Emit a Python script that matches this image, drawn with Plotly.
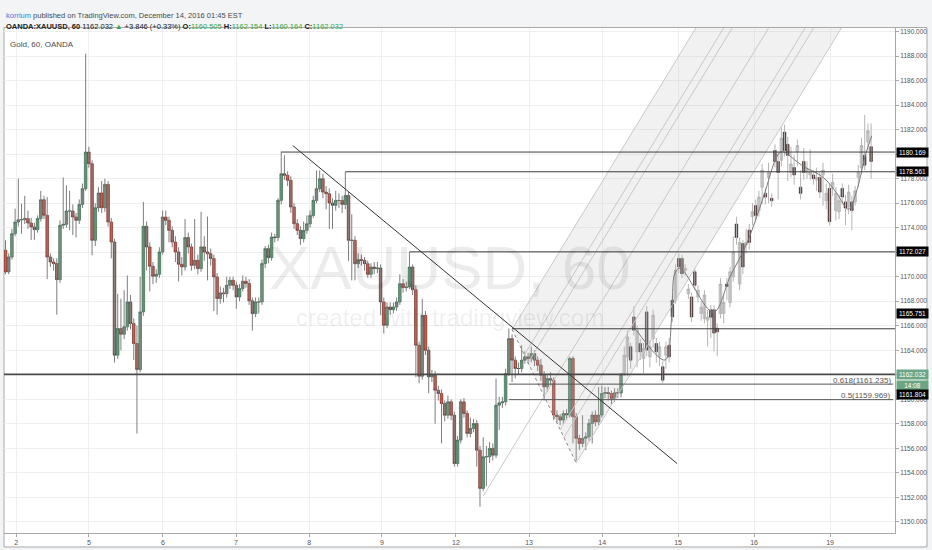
import plotly.graph_objects as go

# OANDA:XAUUSD 60 min candles, oldest first
first_open = 1172.16
closes = [
    1170.39, 1171.61, 1173.51, 1174.46, 1174.65, 1174.65, 1174.74, 1174.38, 1174.06, 1173.84,
    1174.74, 1176.28, 1175.01, 1171.61, 1171.20, 1171.07, 1169.76, 1174.19, 1174.27, 1175.36,
    1175.36, 1174.87, 1174.60, 1175.90, 1177.18, 1180.17, 1179.22, 1172.97, 1175.63, 1176.83,
    1175.63, 1177.53, 1174.46, 1172.83, 1163.60, 1165.77, 1165.31, 1165.91, 1167.94, 1166.18,
    1164.55, 1162.43, 1167.13, 1174.11, 1172.43, 1170.85, 1170.04, 1170.20, 1172.02, 1174.87,
    1174.60, 1173.78, 1172.83, 1172.02, 1171.01, 1170.80, 1173.19, 1172.43, 1170.93, 1171.34,
    1170.66, 1172.43, 1172.02, 1171.88, 1171.48, 1169.98, 1168.22, 1168.68, 1168.62, 1169.30,
    1169.71, 1169.30, 1168.35, 1169.03, 1169.63, 1169.44, 1168.03, 1166.99, 1167.94, 1167.94,
    1171.07, 1172.29, 1171.56, 1173.24, 1173.19, 1176.23, 1178.40, 1178.27, 1177.86, 1175.69,
    1174.33, 1173.78, 1173.11, 1173.78, 1174.32, 1175.00, 1176.22, 1177.18, 1177.99, 1176.90,
    1176.77, 1176.01, 1175.82, 1176.22, 1176.22, 1175.90, 1176.63, 1172.97, 1172.97, 1171.06,
    1171.39, 1171.34, 1171.06, 1170.19, 1170.79, 1170.66, 1170.71, 1167.94, 1166.04, 1167.53,
    1167.31, 1167.53, 1167.94, 1169.43, 1169.11, 1169.16, 1170.79, 1168.94, 1164.41, 1161.88,
    1166.85, 1164.00, 1161.83, 1161.96, 1160.74, 1160.47, 1159.65, 1158.70, 1159.79, 1158.70,
    1154.76, 1156.67, 1159.79, 1158.84, 1157.21, 1157.62, 1158.02, 1155.85, 1152.73, 1155.31,
    1155.31, 1155.99, 1155.44, 1159.52, 1159.71, 1159.79, 1162.10, 1164.95, 1163.19, 1162.51,
    1162.51, 1163.19, 1163.46, 1163.32, 1163.73, 1163.19, 1162.78, 1161.96, 1161.01, 1161.69,
    1161.56, 1158.71, 1158.57, 1158.30, 1158.84, 1158.71, 1163.33, 1158.57, 1156.81,
    1156.40, 1156.81, 1156.94, 1158.03, 1158.71, 1158.16, 1158.71, 1160.47,
    1160.55, 1160.47, 1160.07, 1160.53, 1160.51, 1162.03,
]
highs = [
    1172.97, 1171.9, 1173.9, 1175.55, 1178.0, 1175.96, 1176.6, 1175.4, 1174.8, 1174.4,
    1175.0, 1177.0, 1176.6, 1176.5, 1171.9, 1171.5, 1171.5, 1174.6, 1178.1, 1177.45,
    1177.0, 1175.9, 1175.2, 1176.3, 1177.6, 1188.2, 1180.6, 1179.5, 1176.0, 1177.3,
    1177.8, 1178.0, 1177.8, 1174.8, 1173.1, 1168.6, 1168.2, 1168.9, 1170.1, 1168.5,
    1166.6, 1166.0, 1170.0, 1176.1, 1174.5, 1172.8, 1171.2, 1170.6, 1172.4, 1175.4,
    1175.4, 1174.9, 1174.1, 1173.3, 1172.4, 1171.6, 1174.7, 1173.6, 1172.7, 1174.7,
    1171.8, 1175.3, 1173.3, 1174.9, 1172.3, 1171.8, 1170.3, 1169.2, 1169.1, 1170.0,
    1170.0, 1170.0, 1169.6, 1169.4, 1170.1, 1170.0, 1169.8, 1168.3, 1168.3, 1168.3,
    1171.4, 1172.5, 1172.6, 1173.6, 1173.5, 1176.4, 1180.2, 1179.9, 1178.6, 1178.2,
    1176.0, 1174.7, 1174.1, 1174.5, 1175.0, 1175.4, 1176.6, 1178.67, 1178.67, 1178.4,
    1177.4, 1177.2, 1176.4, 1177.0, 1176.8, 1176.6, 1178.56, 1176.9, 1175.1, 1173.3,
    1171.9, 1171.8, 1171.6, 1171.3, 1171.1, 1171.2, 1171.2, 1171.0, 1168.3, 1167.9,
    1167.9, 1167.9, 1168.3, 1170.2, 1169.8, 1169.6, 1172.01, 1171.0, 1169.3, 1164.7,
    1168.2, 1167.2, 1164.3, 1162.4, 1162.3, 1161.1, 1160.8, 1159.9, 1160.3, 1160.0,
    1159.0, 1157.0, 1160.0, 1160.1, 1159.1, 1158.5, 1158.4, 1158.3, 1156.2, 1156.9,
    1156.2, 1156.5, 1156.4, 1161.7, 1160.2, 1160.2, 1162.5, 1165.77, 1165.3, 1163.5,
    1163.0, 1164.4, 1163.9, 1163.8, 1164.3, 1164.0, 1163.5, 1163.3, 1162.3, 1162.0,
    1162.2, 1161.8, 1159.1, 1158.8, 1159.1, 1159.2, 1163.46, 1163.5, 1158.9,
    1157.1, 1158.7, 1157.3, 1158.4, 1159.0, 1159.1, 1161.0, 1161.1,
    1161.0, 1161.0, 1160.7, 1160.9, 1160.9, 1162.15,
]
lows = [
    1170.2, 1170.2, 1171.4, 1173.3, 1174.1, 1173.51, 1174.3, 1173.9, 1173.0, 1173.0,
    1173.6, 1174.5, 1174.7, 1169.8, 1170.8, 1170.5, 1166.9, 1169.5, 1173.9, 1174.0,
    1173.8, 1173.4, 1173.2, 1174.3, 1175.6, 1177.0, 1178.9, 1171.75, 1172.5, 1175.3,
    1175.2, 1175.3, 1174.1, 1171.5, 1163.0, 1163.3, 1164.0, 1164.9, 1165.6, 1165.7,
    1163.2, 1157.2, 1162.2, 1166.8, 1170.5, 1168.8, 1169.4, 1169.5, 1169.9, 1171.8,
    1174.2, 1172.8, 1172.4, 1171.2, 1169.6, 1170.1, 1170.5, 1171.9, 1170.5, 1170.6,
    1170.2, 1170.4, 1171.3, 1169.7, 1170.9, 1167.2, 1166.9, 1167.8, 1167.9, 1168.3,
    1169.0, 1168.9, 1167.4, 1168.0, 1168.8, 1169.1, 1167.7, 1165.6, 1166.7, 1167.0,
    1167.7, 1170.7, 1171.1, 1171.3, 1172.8, 1172.9, 1175.9, 1177.9, 1177.4, 1175.2,
    1173.9, 1173.4, 1172.6, 1172.8, 1173.5, 1174.0, 1174.8, 1176.0, 1176.9, 1176.4,
    1175.5, 1173.9, 1173.9, 1175.4, 1175.6, 1175.2, 1175.5, 1171.3, 1169.7, 1169.7,
    1170.7, 1170.9, 1170.5, 1169.9, 1169.9, 1170.2, 1170.3, 1166.85, 1165.36, 1165.8,
    1166.9, 1167.0, 1167.2, 1167.7, 1168.7, 1168.8, 1169.0, 1168.5, 1161.8, 1161.3,
    1161.6, 1163.6, 1160.5, 1161.4, 1158.0, 1159.9, 1156.4, 1158.2, 1158.4, 1158.3,
    1154.5, 1154.5, 1156.4, 1158.5, 1156.9, 1156.9, 1157.3, 1154.5, 1151.23, 1152.5,
    1152.9, 1154.8, 1155.0, 1155.2, 1157.5, 1159.3, 1159.5, 1161.9, 1161.4, 1161.7,
    1162.0, 1162.2, 1162.9, 1162.9, 1163.0, 1162.7, 1162.3, 1161.5, 1159.9, 1160.6,
    1161.1, 1158.3, 1158.1, 1157.9, 1158.0, 1158.3, 1158.5, 1156.4, 1155.0,
    1155.85, 1156.1, 1155.85, 1156.6, 1156.4, 1157.8, 1157.9, 1158.5,
    1160.1, 1159.9, 1159.6, 1159.8, 1160.1, 1160.16,
]

# projected bars ("bars pattern" drawing), drawn in gray after the last real bar
ghost_open = [
    1162.0, 1163.46, 1164.28, 1166.72, 1163.87, 1164.55, 1163.33, 1167.13, 1163.46, 1164.96,
    1164.55, 1163.46, 1162.65, 1163.60, 1164.41, 1168.08, 1168.08, 1171.48, 1171.48, 1170.53,
    1168.6, 1168.35, 1170.4, 1168.35, 1167.0, 1166.6, 1166.45, 1167.3, 1167.3, 1165.8,
    1167.0, 1167.0, 1169.4, 1167.9, 1170.0, 1174.3, 1169.4, 1172.7, 1172.6, 1173.8,
    1174.9, 1175.8, 1175.4, 1177.3, 1176.8, 1178.1, 1176.4, 1180.3, 1179.4, 1179.5,
    1181.8, 1180.8, 1178.5, 1178.9, 1180.2, 1177.3, 1179.4, 1178.5, 1178.3, 1178.3,
    1177.9, 1178.1, 1178.3, 1176.2, 1177.2, 1177.2, 1175.4, 1175.3, 1177.2, 1176.1,
    1175.7, 1176.1, 1176.1, 1178.1, 1178.9, 1179.9, 1181.0, 1180.6,
]
ghost_close = [
    1163.6, 1165.09, 1163.19, 1165.64, 1165.64, 1163.87, 1164.14, 1164.01, 1164.28, 1166.86,
    1163.87, 1164.28, 1161.56, 1164.28, 1163.46, 1166.72, 1170.53, 1170.80, 1170.25, 1170.66,
    1169.0, 1166.72, 1169.3, 1168.9, 1167.5, 1168.5, 1166.7, 1166.7, 1165.4, 1165.5,
    1169.4, 1167.9, 1169.2, 1170.4, 1172.0, 1173.2, 1172.8, 1170.8, 1172.8, 1172.8,
    1175.3, 1175.0, 1176.5, 1178.7, 1176.5, 1178.5, 1176.2, 1179.4, 1178.5, 1181.3,
    1180.3, 1179.9, 1179.2, 1178.3, 1180.7, 1176.8, 1178.5, 1178.8, 1178.5, 1178.0,
    1178.1, 1176.9, 1178.7, 1176.8, 1174.5, 1177.7, 1176.8, 1176.2, 1176.5, 1175.6,
    1176.9, 1175.4, 1177.0, 1178.5, 1180.7, 1179.1, 1181.9, 1179.4,
]
ghost_high = [
    1164.3, 1165.6, 1164.6, 1167.6, 1166.0, 1164.9, 1164.6, 1167.6, 1164.8, 1167.3,
    1165.0, 1164.7, 1163.1, 1164.7, 1165.0, 1168.5, 1171.0, 1171.9, 1171.8, 1171.0,
    1169.4, 1168.7, 1170.7, 1169.3, 1168.0, 1168.9, 1167.3, 1167.7, 1167.7, 1166.2,
    1169.9, 1168.6, 1169.9, 1170.8, 1173.3, 1174.9, 1173.2, 1173.0, 1173.9, 1174.3,
    1176.0, 1176.3, 1177.0, 1179.2, 1177.2, 1179.3, 1176.8, 1180.8, 1180.2, 1182.2,
    1182.4, 1181.4, 1180.6, 1179.9, 1181.2, 1178.7, 1180.5, 1179.4, 1180.4, 1178.7,
    1178.9, 1178.5, 1179.3, 1177.6, 1177.6, 1178.4, 1177.3, 1176.7, 1177.6, 1176.7,
    1177.5, 1176.6, 1177.4, 1179.1, 1181.3, 1183.2, 1182.5, 1182.5,
]
ghost_low = [
    1161.9, 1161.9, 1162.5, 1165.2, 1162.6, 1163.2, 1162.1, 1163.5, 1162.6, 1164.2,
    1163.0, 1162.7, 1161.3, 1162.5, 1163.0, 1166.3, 1167.8, 1170.3, 1169.9, 1170.1,
    1168.2, 1166.3, 1168.9, 1167.9, 1166.4, 1166.2, 1164.3, 1165.0, 1163.9, 1163.5,
    1166.6, 1166.2, 1168.1, 1167.5, 1169.6, 1172.6, 1168.9, 1170.2, 1171.9, 1172.2,
    1174.2, 1174.5, 1174.9, 1175.9, 1175.9, 1176.0, 1175.7, 1178.9, 1176.3, 1179.0,
    1179.8, 1177.8, 1178.1, 1177.5, 1179.0, 1176.3, 1177.9, 1178.0, 1177.9, 1177.5,
    1177.0, 1176.4, 1175.8, 1175.5, 1174.2, 1176.6, 1174.6, 1174.7, 1175.9, 1174.2,
    1175.1, 1173.8, 1175.8, 1177.3, 1178.4, 1178.7, 1180.3, 1178.0,
]

# drawings: bar index / price anchors
ray_levels = [1180.169, 1178.561, 1172.027, 1165.751]
ray_start = [86, 106, 126, 158]
last_price = 1162.032
fib_levels = [1161.235, 1159.969]
fib_names = ["0.618", "0.5"]
fib_start = 157
trend_x = [89.6, 209.5]
trend_y = [1180.7, 1154.75]
fork_x = [149, 158, 178]
fork_y = [1152.1, 1165.7, 1154.8]
fork_levels = [-1, -0.618, -0.5, 0, 0.5, 0.618, 1]
path_x = [196.9, 205.7, 207.8, 208.8, 210.4, 220.8, 226.0, 231.2, 236.4, 240.6, 242.1,
          248.9, 255.1, 259.3, 262.9, 265.5, 268.1, 270.2]
path_y = [1165.6, 1163.2, 1166.7, 1170.3, 1170.7, 1167.1, 1170.0, 1172.7, 1176.5, 1179.8, 1180.2,
          1179.0, 1178.1, 1176.8, 1175.5, 1177.0, 1179.8, 1181.5]

day_labels = ["2", "5", "6", "7", "8", "9", "12", "13", "14", "15", "16", "19"]
day_bars = [3.3, 26.0, 49.1, 71.9, 94.7, 117.4, 140.5, 163.3, 186.1, 209.8, 233.5, 257.2]

x_range = [-0.47, 277.45]
y_range = [1149.09, 1190.29]

opens = [first_open] + closes[:-1]
xs = list(range(len(closes)))
gx = list(range(len(closes), len(closes) + len(ghost_open)))

UP, UP_LINE = "#6ba583", "#225437"
DN, DN_LINE = "#d75442", "#5b1a13"
FONT = "Liberation Sans"

fig = go.Figure()

# pitchfork (median from P1 through the middle of A-B, parallels through A-B)
p1x, ax_, bx_ = fork_x
p1y, ay, by = fork_y
mx, my = (ax_ + bx_) / 2, (ay + by) / 2
dx, dy = mx - p1x, my - p1y
top = y_range[1]
fx, fy = [], []
ends = {}
for k in fork_levels:
    if k == 0:
        sx, sy = p1x, p1y
    else:
        sx, sy = mx + k * (bx_ - mx), my + k * (by - my)
    t = (top - sy) / dy
    ends[k] = (sx + t * dx, top)
    fx += [sx, sx + t * dx, None]
    fy += [sy, top, None]

fig.add_trace(go.Scatter(
    x=[ax_, bx_, ends[1][0], ends[-1][0], ax_], y=[ay, by, top, top, ay],
    fill="toself", fillcolor="rgba(185,185,185,0.2)", line=dict(width=0),
    mode="lines", hoverinfo="skip", showlegend=False))
fig.add_trace(go.Scatter(x=fx, y=fy, mode="lines", line=dict(color="#c8c8c8", width=1),
                         hoverinfo="skip", showlegend=False))
fig.add_trace(go.Scatter(x=[ax_, bx_], y=[ay, by], mode="lines",
                         line=dict(color="#8a8a8a", width=1, dash="dot"),
                         hoverinfo="skip", showlegend=False))

# real candles: wicks then bodies
fig.add_trace(go.Ohlc(x=xs, open=opens, high=highs, low=lows, close=closes, tickwidth=0,
                      increasing=dict(line=dict(color="#7d7d7d", width=1)),
                      decreasing=dict(line=dict(color="#7d7d7d", width=1)),
                      hoverinfo="skip", showlegend=False))
fig.add_trace(go.Candlestick(
    x=xs, open=opens, close=closes,
    high=[max(o, c) for o, c in zip(opens, closes)],
    low=[min(o, c) for o, c in zip(opens, closes)],
    increasing=dict(fillcolor=UP, line=dict(color=UP_LINE, width=0.6)),
    decreasing=dict(fillcolor=DN, line=dict(color=DN_LINE, width=0.6)),
    hoverinfo="skip", showlegend=False))

# ghost candles
fig.add_trace(go.Ohlc(x=gx, open=ghost_open, high=ghost_high, low=ghost_low, close=ghost_close,
                      tickwidth=0,
                      increasing=dict(line=dict(color="#b4b4b4", width=1)),
                      decreasing=dict(line=dict(color="#b4b4b4", width=1)),
                      hoverinfo="skip", showlegend=False))
fig.add_trace(go.Candlestick(
    x=gx, open=ghost_open, close=ghost_close,
    high=[max(o, c) for o, c in zip(ghost_open, ghost_close)],
    low=[min(o, c) for o, c in zip(ghost_open, ghost_close)],
    increasing=dict(fillcolor="#d9d9d9", line=dict(color="#a0a0a0", width=0.6)),
    decreasing=dict(fillcolor="#4f3535", line=dict(color="#3a2424", width=0.6)),
    hoverinfo="skip", showlegend=False))
fig.add_trace(go.Scatter(x=path_x, y=path_y, mode="lines",
                         line=dict(color="#7a7a7a", width=1, shape="spline"),
                         hoverinfo="skip", showlegend=False))

# horizontal rays, last price, fib levels, trend line
for lvl, x0 in zip(ray_levels, ray_start):
    fig.add_trace(go.Scatter(x=[x0, x_range[1]], y=[lvl, lvl], mode="lines",
                             line=dict(color="#3c3c3c", width=1),
                             hoverinfo="skip", showlegend=False))
fig.add_trace(go.Scatter(x=x_range, y=[last_price, last_price], mode="lines",
                         line=dict(color="#4a4a4a", width=1.8),
                         hoverinfo="skip", showlegend=False))
for lvl in fib_levels:
    fig.add_trace(go.Scatter(x=[fib_start, x_range[1] - 0.6], y=[lvl, lvl], mode="lines",
                             line=dict(color="#555555", width=1),
                             hoverinfo="skip", showlegend=False))
fig.add_trace(go.Scatter(x=trend_x, y=trend_y, mode="lines",
                         line=dict(color="#333333", width=1),
                         hoverinfo="skip", showlegend=False))

# ---- text ----
ann = []
ann.append(dict(text="XAUUSD, 60", x=0.5, y=0.525, xref="paper", yref="paper",
                showarrow=False, font=dict(family=FONT, size=62, color="rgba(0,0,0,0.075)")))
ann.append(dict(text="created with tradingview.com", x=0.5, y=0.427, xref="paper", yref="paper",
                showarrow=False, font=dict(family=FONT, size=24, color="rgba(0,0,0,0.075)")))
ann.append(dict(text="Gold, 60, OANDA", x=0.0045, y=0.98, xref="paper", yref="paper",
                xanchor="left", showarrow=False, font=dict(family=FONT, size=8, color="#4c4c4c")))
ann.append(dict(text="<span style='color:#3b7ddd'>korrium</span> published on TradingView.com, "
                     "December 14, 2016 01:45 EST",
                x=0, y=1.037, xref="paper", yref="paper", xanchor="left", showarrow=False,
                font=dict(family=FONT, size=7.5, color="#4a4a4a")))
g = "#3aa64a"
ann.append(dict(text="<b>OANDA:XAUUSD, 60</b> 1162.032 <span style='color:%s'>▲</span> +3.846 (+0.33%%) "
                     "<b>O:</b><span style='color:%s'>1160.505</span> <b>H:</b><span style='color:%s'>1162.154</span> "
                     "<b>L:</b><span style='color:%s'>1160.164</span> <b>C:</b><span style='color:%s'>1162.032</span>"
                     % (g, g, g, g, g),
                x=0, y=1.016, xref="paper", yref="paper", xanchor="left", showarrow=False,
                font=dict(family=FONT, size=7.5, color="#222222")))
for name, lvl, yy in zip(fib_names, fib_levels, [1161.56, 1160.33]):
    ann.append(dict(text="%s(%.3f)" % (name, lvl), x=0.9975, y=yy, xref="paper", yref="y",
                    xanchor="right", showarrow=False,
                    font=dict(family=FONT, size=8, color="#555555")))

# price boxes on the axis
boxes = [("1180.169", 1180.169, "#000000"), ("1178.561", 1178.561, "#000000"),
         ("1172.027", 1172.027, "#000000"), ("1165.751", 1167.0, "#000000"),
         ("1162.032", 1162.05, UP), ("14:08", 1161.15, UP), ("1161.804", 1160.39, "#000000")]
for txt, yy, col in boxes:
    ann.append(dict(text=txt, x=1.0012, y=yy, xref="paper", yref="y", xanchor="left",
                    yanchor="middle", showarrow=False, bgcolor=col, width=31, height=9,
                    borderpad=0, align="center",
                    font=dict(family=FONT, size=6.5, color="#ffffff")))

fig.update_layout(
    width=932, height=550,
    margin=dict(l=4, r=37, t=28, b=17),
    paper_bgcolor="#f3f4f6", plot_bgcolor="#ffffff",
    showlegend=False, boxgap=0.1, boxgroupgap=0.1,
    annotations=ann,
    shapes=[dict(type="rect", xref="paper", yref="paper", x0=0, x1=1.0359, y0=-0.0277, y1=1.001,
                 line=dict(color="#a8a8a8", width=1), fillcolor="#ffffff", layer="below")],
    xaxis=dict(range=x_range, rangeslider=dict(visible=False), tickmode="array",
               tickvals=day_bars, ticktext=day_labels, showgrid=True, gridcolor="#efefef",
               zeroline=False, showline=True, linecolor="#a8a8a8", ticks="outside", ticklen=3,
               tickcolor="#a8a8a8", tickfont=dict(family=FONT, size=7, color="#555555")),
    yaxis=dict(range=y_range, side="right", dtick=2, tick0=1150, tickformat=".3f",
               showgrid=True, gridcolor="#efefef", zeroline=False, showline=True,
               linecolor="#a8a8a8", ticks="outside", ticklen=3, tickcolor="#a8a8a8",
               tickfont=dict(family=FONT, size=6.5, color="#555555")),
)

# the page is photographed at 932x550, so drop the default body margin
fig.write_html("out.html", config={"displayModeBar": False},
               post_script="document.body.style.margin='0';")
